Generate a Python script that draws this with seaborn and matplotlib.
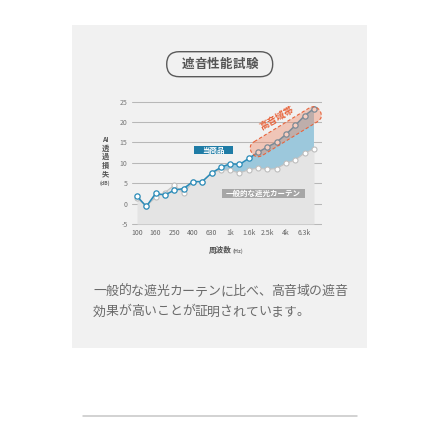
import numpy as np
import pandas as pd
import matplotlib
matplotlib.use("Agg")
import matplotlib.pyplot as plt
import matplotlib.transforms as mtransforms
from matplotlib.patches import Rectangle, FancyBboxPatch
import seaborn as sns

# ---- data (1/3 octave bands, dB) ----
bands = ["100", "125", "160", "200", "250", "315", "400", "500", "630", "800",
         "1k", "1.25k", "1.6k", "2k", "2.5k", "3.15k", "4k", "5k", "6.3k", "8k"]
product_db = [1.8, -0.7, 2.5, 2.1, 3.3, 3.7, 5.4, 5.4, 7.5, 8.9,
              9.8, 9.6, 11.1, 12.6, 13.9, 15.1, 17.0, 19.2, 21.6, 23.3]
general_db = [1.3, -0.6, 1.5, 2.7, 4.5, 2.5, 5.3, 5.4, 7.5, 8.3,
              8.2, 7.5, 8.3, 8.7, 8.4, 8.6, 9.9, 10.7, 12.4, 13.4]
tick_bands = ["100", "160", "250", "400", "630", "1k", "1.6k", "2.5k", "4k", "6.3k"]
y_ticks = [-5, 0, 5, 10, 15, 20, 25]

title = "遮音性能試験"
caption = ["一般的な遮光カーテンに比べ、高音域の遮音",
           "効果が高いことが証明されています。"]
product_name = "当商品"
general_name = "一般的な遮光カーテン"
band_name = "高音域帯"

df = pd.DataFrame({"idx": np.arange(len(bands)), "band": bands,
                   "product": product_db, "general": general_db})

sns.set_theme(style="white")
plt.rcParams["font.family"] = ["Noto Sans CJK JP", "DejaVu Sans"]

BLUE = "#2a8bb8"
GRAY_LINE = "#c4c4c4"
PANEL = "#f1f1f1"

fig = plt.figure(figsize=(4.4, 4.4), dpi=100)
fig.patch.set_facecolor("white")

# background layer in pixel coordinates
bg = fig.add_axes([0, 0, 1, 1], zorder=-1)
bg.set_xlim(0, 440); bg.set_ylim(440, 0); bg.axis("off")
bg.add_patch(Rectangle((72, 25), 295, 323, color=PANEL, lw=0))
bg.plot([83, 357], [416, 416], color="#c6c6c6", lw=1.1)

# ---- chart axes ----
x0, x1 = -0.57, 19.83
ylo, yhi = -5.5, 25.5
ax = fig.add_axes([131.7 / 440, 1 - 226.0 / 440, 190 / 440, 126.3 / 440], zorder=1)
ax.patch.set_alpha(0)

ax.fill_between(df["idx"], -5, df["general"], color="#e4e4e4", lw=0, zorder=1)
ax.fill_between(df["idx"], df["general"], df["product"],
                where=df["product"] >= df["general"], interpolate=True,
                color="#9cc8dc", lw=0, zorder=1)

sns.lineplot(data=df, x="idx", y="general", ax=ax, color=GRAY_LINE, lw=0.9,
             marker="o", markersize=3.6, markerfacecolor="white",
             markeredgecolor="#bdbdbd", markeredgewidth=0.8, zorder=3)
sns.lineplot(data=df, x="idx", y="product", ax=ax, color=BLUE, lw=1.1,
             marker="o", markersize=3.8, markerfacecolor="white",
             markeredgecolor=BLUE, markeredgewidth=0.9, zorder=4)

ax.set_xlim(x0, x1)
ax.set_ylim(ylo, yhi)
ax.set_yticks(y_ticks)
ax.set_yticklabels([str(v) for v in y_ticks])
ax.set_xticks([bands.index(b) for b in tick_bands])
ax.set_xticklabels(tick_bands)
ax.grid(axis="y", color="#b8b8b8", lw=0.75)
ax.grid(axis="x", visible=False)
ax.set_axisbelow(True)
for s in ax.spines.values():
    s.set_visible(False)
ax.tick_params(axis="y", length=0, pad=3, labelsize=5, labelcolor="#777777")
ax.tick_params(axis="x", length=0, pad=2, labelsize=5, labelcolor="#666666")
ax.set_xlabel("")
ax.set_ylabel("")

# ---- foreground annotations in pixel coordinates ----
fg = fig.add_axes([0, 0, 1, 1], zorder=2)
fg.set_xlim(0, 440); fg.set_ylim(440, 0); fg.axis("off")
fg.patch.set_alpha(0)

# title pill
fg.add_patch(FancyBboxPatch((166.7, 51.7), 106, 25,
                            boxstyle="round,pad=0,rounding_size=12.5",
                            facecolor="none", edgecolor="#5a5a5a", lw=1.0))
for i, ch in enumerate(title):
    fg.text(187.7 + i * 12.8, 64.2, ch, ha="center", va="center",
            fontsize=9, fontweight="bold", color="#555555")

# y label stacked vertically
fg.text(105, 139.7, "AI", ha="center", va="center", fontsize=4.8,
        fontweight="bold", color="#555555")
for ch, yy in zip("透過損失", [148.7, 156.8, 165.2, 173.4]):
    fg.text(105, yy, ch, ha="center", va="center", fontsize=5.2,
            fontweight="bold", color="#555555")
fg.text(105, 183.6, "(dB)", ha="center", va="center", fontsize=3.6,
        fontweight="bold", color="#666666")

# x label
fg.text(231.5, 250.5, "周波数", ha="right", va="center", fontsize=5.5,
        fontweight="bold", color="#555555")
fg.text(232.5, 250.8, "(Hz)", ha="left", va="center", fontsize=3.8,
        fontweight="bold", color="#777777")

# series labels
fg.add_patch(Rectangle((194.3, 146.2), 38.4, 8.3, color="#1f7ca6", lw=0))
fg.text(213.5, 150.4, product_name, ha="center", va="center", fontsize=5.4,
        fontweight="bold", color="white")
fg.add_patch(Rectangle((221.7, 189.0), 83.3, 9.3, color="#a6a6a6", lw=0))
fg.text(263.3, 193.6, general_name, ha="center", va="center", fontsize=5.4,
        fontweight="bold", color="white")

# high-frequency band highlight
cx, cy, L, T, ang = 285.8, 131.7, 80, 16, 31.5
rot = mtransforms.Affine2D().rotate_deg_around(cx, cy, -ang) + fg.transData
fg.add_patch(FancyBboxPatch((cx - L / 2, cy - T / 2), L, T,
                            boxstyle=f"round,pad=0,rounding_size={T / 2}",
                            facecolor="#ef8a68", alpha=0.42, lw=0, transform=rot))
fg.add_patch(FancyBboxPatch((cx - L / 2, cy - T / 2), L, T,
                            boxstyle=f"round,pad=0,rounding_size={T / 2}",
                            facecolor="none", edgecolor="#e8643c", lw=0.8,
                            ls=(0, (3, 2)), transform=rot))
fg.text(276.7, 118.0, band_name, ha="center", va="center", rotation=30,
        fontsize=6.8, fontweight="bold", color="#e8643c")

# caption, drawn per character for the wide letter spacing
for row, line in enumerate(caption):
    for i, ch in enumerate(line):
        fg.text(99.5 + i * 12.7, 291.7 + row * 20.2, ch, ha="center", va="center",
                fontsize=9.3, color="#6a6a6a")

fig.savefig("out.png", dpi=100, facecolor="white")
